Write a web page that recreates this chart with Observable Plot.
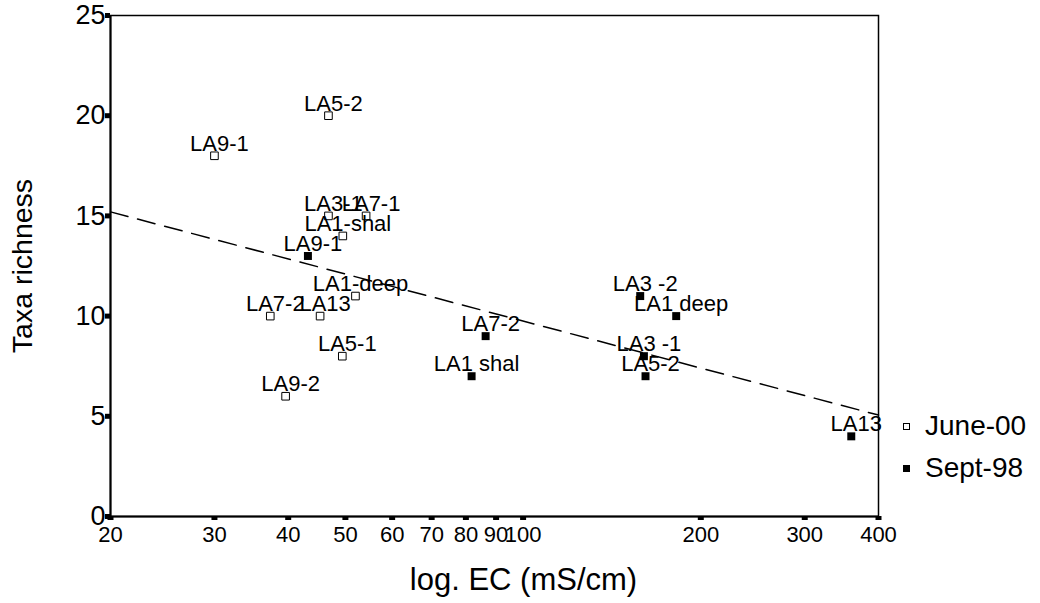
<!DOCTYPE html>
<html>
<head>
<meta charset="utf-8">
<script src="https://cdn.jsdelivr.net/npm/d3@7"></script>
<script src="https://cdn.jsdelivr.net/npm/@observablehq/plot@0.6"></script>
<style>
  html, body { margin: 0; padding: 0; background: #fff; }
  #wrap { position: relative; width: 1040px; height: 603px; font-family: "Liberation Sans", Arial, sans-serif; }
  #legend { position: absolute; left: 903px; top: 405px; font-size: 28px; color: #000; }
  #legend .item { display: flex; align-items: center; height: 42px; }
  #legend .sw { width: 7px; height: 7px; box-sizing: border-box; border: 1px solid #000; margin-right: 15px; }
</style>
</head>
<body>
<div id="wrap"></div>
<script>
// Data
const juneSites = ["LA9-1", "LA5-2", "LA3-1", "LA7-1", "LA1-shal", "LA1-deep", "LA7-2", "LA13", "LA5-1", "LA9-2"];
const juneEC    = [30, 46.8, 46.8, 54.2, 49.5, 52, 37.3, 45.3, 49.4, 39.6];
const juneTaxa  = [18, 20, 15, 15, 14, 11, 10, 10, 8, 6];

const septSites = ["LA9-1", "LA7-2", "LA1 shal", "LA3 -2", "LA1 deep", "LA3 -1", "LA5-2", "LA13"];
const septEC    = [43.2, 86.4, 81.8, 157.9, 181.7, 160.2, 161.2, 359.7];
const septTaxa  = [13, 9, 7, 11, 10, 8, 7, 4];

const trendEC   = [20, 400];
const trendTaxa = [15.2, 5.06];

const xTicks = [20, 30, 40, 50, 60, 70, 80, 90, 100, 200, 300, 400];
const yTicks = [0, 5, 10, 15, 20, 25];

const seriesNames = ["June-00", "Sept-98"];
const xTitle = "log. EC (mS/cm)";
const yTitle = "Taxa richness";

const june = juneSites.map((s, i) => ({site: s, ec: juneEC[i], taxa: juneTaxa[i]}));
const sept = septSites.map((s, i) => ({site: s, ec: septEC[i], taxa: septTaxa[i]}));
const trend = trendEC.map((e, i) => ({ec: e, taxa: trendTaxa[i]}));
const all = june.concat(sept);

const chart = Plot.plot({
  width: 1040,
  height: 603,
  marginLeft: 110,
  marginRight: 162,
  marginTop: 15,
  marginBottom: 87,
  style: {fontFamily: "'Liberation Sans', Arial, sans-serif", background: "#fff", color: "#000"},
  x: {type: "log", domain: [20, 400]},
  y: {domain: [0, 25]},
  marks: [
    Plot.frame({stroke: "#000", strokeWidth: 1.5}),
    Plot.ruleX([20], {stroke: "#000", strokeWidth: 2}),
    Plot.ruleY([0], {stroke: "#000", strokeWidth: 2}),
    Plot.axisY({ticks: yTicks, tickSize: 5, strokeWidth: 5, tickPadding: 0, fontSize: 27, label: null, tickFormat: d => String(d)}),
    Plot.axisX({ticks: xTicks, tickSize: 4, strokeWidth: 6, label: null, tickFormat: () => ""}),
    Plot.text(xTicks, {x: d => d, frameAnchor: "bottom", lineAnchor: "top", dy: 10, fontSize: 22, text: d => String(d), fill: "#000"}),
    Plot.text([yTitle], {frameAnchor: "left", textAnchor: "middle", rotate: -90, dx: -88, fontSize: 28.5}),
    Plot.text([xTitle], {frameAnchor: "bottom", textAnchor: "middle", dy: 73, dx: 29, fontSize: 31}),
    Plot.line(trend, {x: "ec", y: "taxa", stroke: "#000", strokeWidth: 1.5, strokeDasharray: "18,10"}),
    Plot.dot(june, {x: "ec", y: "taxa", symbol: "square", r: 4.3, fill: "#fff", stroke: "#000", strokeWidth: 1}),
    Plot.dot(sept, {x: "ec", y: "taxa", symbol: "square", r: 4.5, fill: "#000", stroke: "none"}),
    Plot.text(all, {x: "ec", y: "taxa", text: "site", lineAnchor: "bottom", dy: -5, dx: 5, fontSize: 22, fill: "#000"})
  ]
});

const wrap = document.getElementById("wrap");
wrap.appendChild(chart);

const legend = document.createElement("div");
legend.id = "legend";
seriesNames.forEach((name, i) => {
  const item = document.createElement("div");
  item.className = "item";
  const sw = document.createElement("span");
  sw.className = "sw";
  sw.style.background = i === 0 ? "#fff" : "#000";
  const label = document.createElement("span");
  label.textContent = name;
  item.appendChild(sw);
  item.appendChild(label);
  legend.appendChild(item);
});
wrap.appendChild(legend);
</script>
</body>
</html>
